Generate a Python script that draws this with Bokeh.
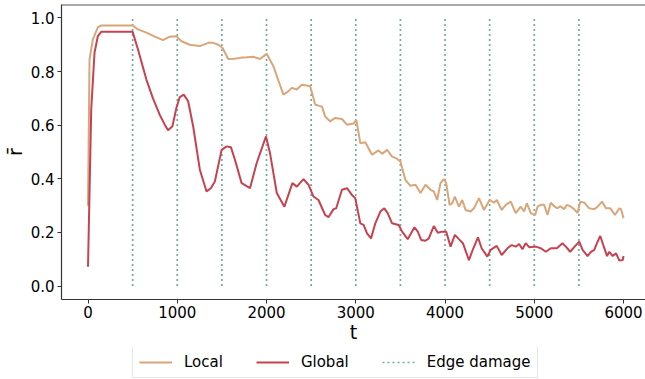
from bokeh.plotting import figure
from bokeh.models import Legend, LegendItem, Span, FixedTicker, Range1d
from bokeh.layouts import column
from bokeh.embed import file_html
from bokeh.resources import INLINE

local_t = [0, 17, 54, 110, 148, 300, 500, 560, 654, 750, 840, 916, 990, 1047, 1140, 1253, 1346, 1402,
           1460, 1508, 1571, 1640, 1702, 1780, 1852, 1927, 2002, 2077, 2140, 2189, 2240, 2283, 2339, 2395,
           2450, 2489, 2510, 2545, 2590, 2620, 2657, 2713, 2770, 2845, 2901, 2976, 3006, 3051, 3107, 3182,
           3256, 3294, 3351, 3407, 3460, 3500, 3556, 3612, 3669, 3725, 3781, 3837, 3874, 3912, 3949, 3987,
           4013, 4051, 4081, 4110, 4155, 4193, 4230, 4287, 4324, 4380, 4436, 4500, 4548, 4579, 4635, 4680,
           4736, 4792, 4848, 4886, 4916, 4961, 5009, 5036, 5073, 5110, 5148, 5185, 5230, 5260, 5290, 5335,
           5365, 5410, 5447, 5485, 5515, 5560, 5616, 5672, 5710, 5758, 5803, 5852, 5904, 5953, 5972, 6000]
local_r = [0.30, 0.845, 0.92, 0.965, 0.972, 0.972, 0.972, 0.957, 0.945, 0.93, 0.917, 0.93, 0.932, 0.913,
           0.90, 0.895, 0.907, 0.907, 0.90, 0.888, 0.847, 0.848, 0.851, 0.853, 0.855, 0.847, 0.866, 0.82,
           0.76, 0.714, 0.725, 0.739, 0.733, 0.751, 0.748, 0.745, 0.72, 0.677, 0.672, 0.670, 0.633, 0.614,
           0.627, 0.623, 0.602, 0.606, 0.62, 0.533, 0.536, 0.49, 0.506, 0.493, 0.508, 0.483, 0.475, 0.465,
           0.396, 0.374, 0.378, 0.347, 0.378, 0.359, 0.353, 0.321, 0.384, 0.399, 0.384, 0.303, 0.309, 0.334,
           0.296, 0.321, 0.284, 0.278, 0.29, 0.328, 0.284, 0.321, 0.311, 0.321, 0.284, 0.303, 0.315, 0.272,
           0.296, 0.278, 0.309, 0.272, 0.265, 0.296, 0.303, 0.303, 0.265, 0.311, 0.296, 0.29, 0.298, 0.287,
           0.303, 0.296, 0.287, 0.272, 0.315, 0.311, 0.29, 0.287, 0.296, 0.315, 0.29, 0.29, 0.265, 0.29,
           0.287, 0.253]

global_t = [0, 36, 73, 110, 148, 500, 560, 654, 728, 803, 860, 897, 946, 990, 1028, 1073, 1122, 1178,
            1253, 1328, 1376, 1421, 1497, 1553, 1601, 1646, 1721, 1815, 1890, 1994, 2039, 2115, 2200, 2245,
            2290, 2339, 2414, 2470, 2526, 2582, 2657, 2694, 2751, 2781, 2845, 2901, 2957, 2994, 3051, 3088,
            3126, 3171, 3219, 3275, 3320, 3357, 3407, 3481, 3519, 3582, 3657, 3695, 3732, 3781, 3818, 3874,
            3919, 3968, 4013, 4062, 4110, 4155, 4200, 4268, 4317, 4369, 4410, 4474, 4511, 4579, 4635, 4699,
            4747, 4792, 4830, 4867, 4904, 4942, 4998, 5017, 5073, 5129, 5185, 5253, 5316, 5354, 5402, 5447,
            5504, 5541, 5597, 5635, 5672, 5702, 5739, 5773, 5815, 5841, 5878, 5916, 5953, 5991, 6000]
global_r = [0.072, 0.658, 0.87, 0.932, 0.948, 0.948, 0.882, 0.77, 0.70, 0.639, 0.602, 0.581, 0.596,
            0.664, 0.705, 0.714, 0.689, 0.596, 0.434, 0.353, 0.365, 0.39, 0.508, 0.521, 0.518, 0.471,
            0.384, 0.365, 0.459, 0.558, 0.496, 0.347, 0.296, 0.34, 0.384, 0.371, 0.399, 0.378, 0.334,
            0.321, 0.265, 0.257, 0.287, 0.29, 0.359, 0.365, 0.34, 0.328, 0.234, 0.228, 0.197, 0.178,
            0.234, 0.278, 0.29, 0.272, 0.234, 0.228, 0.203, 0.175, 0.219, 0.203, 0.172, 0.169, 0.178,
            0.224, 0.199, 0.203, 0.203, 0.147, 0.191, 0.175, 0.16, 0.097, 0.141, 0.182, 0.141, 0.11,
            0.135, 0.15, 0.116, 0.141, 0.153, 0.147, 0.157, 0.137, 0.16, 0.145, 0.147, 0.147, 0.141,
            0.128, 0.141, 0.141, 0.16, 0.147, 0.128, 0.145, 0.166, 0.135, 0.112, 0.128, 0.135, 0.16,
            0.187, 0.153, 0.112, 0.128, 0.112, 0.122, 0.095, 0.097, 0.112]

damage_t = [500, 1000, 1500, 2000, 2500, 3000, 3500, 4000, 4500, 5000, 5500]
damage_low = [0.0] * len(damage_t)
damage_high = [1.0] * len(damage_t)

x_ticks = [0, 1000, 2000, 3000, 4000, 5000, 6000]
y_ticks = [0.0, 0.2, 0.4, 0.6, 0.8, 1.0]

FONT = "DejaVu Sans"
LOCAL_C = "#D9A679"
GLOBAL_C = "#C7424F"
DMG_C = "#73AAA3"

p = figure(width=645, height=347, output_backend="svg", toolbar_location=None,
           x_range=Range1d(-297, 6246), y_range=Range1d(-0.05, 1.05),
           min_border_left=54, min_border_right=0, min_border_top=4, min_border_bottom=48)
p.background_fill_color = "white"
p.border_fill_color = "white"
p.outline_line_color = None
p.grid.visible = False

dmg = p.segment(x0=damage_t, y0=damage_low, x1=damage_t, y1=damage_high,
                line_color=DMG_C, line_width=1.7, line_dash="2 3")
loc = p.line(local_t, local_r, line_color=LOCAL_C, line_width=2)
glo = p.line(global_t, global_r, line_color=GLOBAL_C, line_width=2)

top = Span(location=1.05, dimension="width", line_color="#555555", line_width=2)
p.add_layout(top)

for ax in (p.xaxis[0], p.yaxis[0]):
    ax.major_label_text_font = FONT
    ax.major_label_text_font_size = "15px"
    ax.major_label_text_color = "black"
    ax.axis_label_text_font = FONT
    ax.axis_label_text_font_style = "normal"
    ax.axis_label_text_font_size = "19px"
    ax.axis_label_text_color = "black"
    ax.axis_line_color = "#333333"
    ax.axis_line_width = 1.2
    ax.major_tick_line_color = "#333333"
    ax.major_tick_in = 0
    ax.major_tick_out = 4
    ax.minor_tick_line_color = None

p.xaxis[0].ticker = FixedTicker(ticks=x_ticks)
p.yaxis[0].ticker = FixedTicker(ticks=y_ticks)
p.yaxis[0].major_label_overrides = {v: f"{v:.1f}" for v in y_ticks}
p.xaxis[0].axis_label = "t"
p.yaxis[0].axis_label = "r\u0304"
p.xaxis[0].axis_label_standoff = 0
p.yaxis[0].axis_label_standoff = 2
p.xaxis[0].major_label_standoff = 2
p.yaxis[0].major_label_standoff = 3

# legend-only strip below the chart (sample glyphs kept outside the visible range)
q = figure(width=645, height=32, output_backend="svg", toolbar_location=None,
           x_axis_type=None, y_axis_type=None, x_range=Range1d(0, 1), y_range=Range1d(0, 1),
           min_border_left=0, min_border_right=0, min_border_top=0, min_border_bottom=0)
q.outline_line_color = None
q.grid.visible = False
q_loc = q.line(x=[5, 6], y=[5, 6], line_color=LOCAL_C, line_width=2)
q_glo = q.line(x=[5, 6], y=[5, 6], line_color=GLOBAL_C, line_width=2)
q_dmg = q.line(x=[5, 6], y=[5, 6], line_color=DMG_C, line_width=1.7, line_dash="2 3")

legend = Legend(items=[LegendItem(label="Local", renderers=[q_loc]),
                       LegendItem(label="Global", renderers=[q_glo]),
                       LegendItem(label="Edge damage", renderers=[q_dmg])],
                orientation="horizontal", location=(71, 1))
legend.label_text_font = FONT
legend.label_text_font_size = "15px"
legend.label_text_color = "black"
legend.glyph_width = 33
legend.glyph_height = 14
legend.label_standoff = 12
legend.spacing = 33
legend.padding = 6
legend.margin = 0
legend.border_line_color = "#cccccc"
legend.border_line_width = 1
legend.background_fill_alpha = 1
q.add_layout(legend, "center")

layout = column(p, q, spacing=0)
open("out.html", "w").write(file_html(layout, INLINE))
